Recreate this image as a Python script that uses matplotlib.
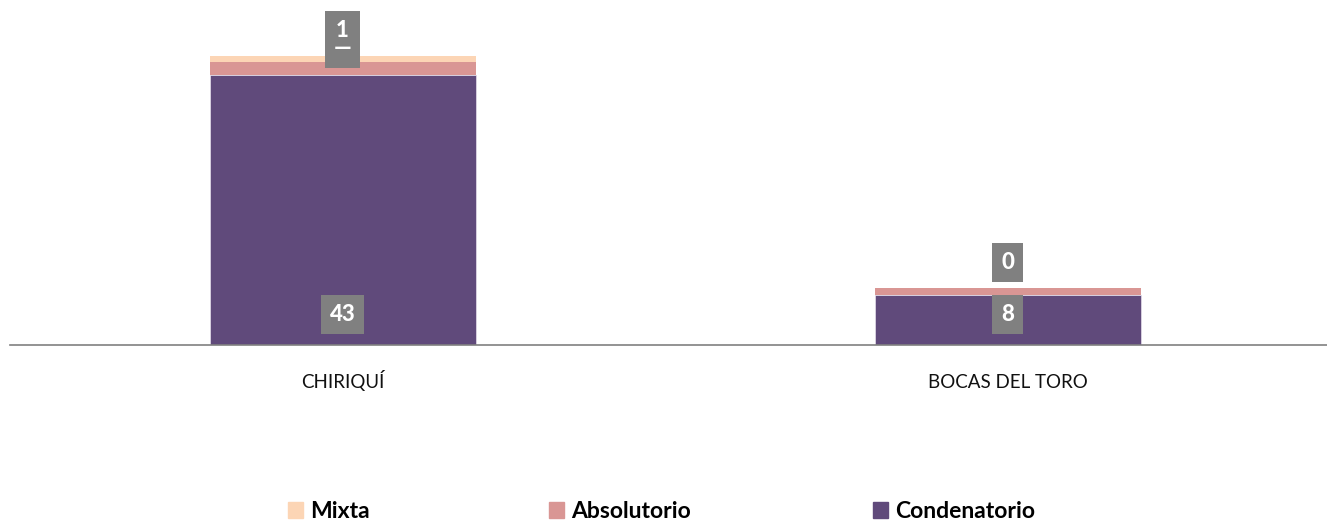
import matplotlib.pyplot as plt
from matplotlib.patches import Patch

provincias = ['CHIRIQUÍ', 'BOCAS DEL TORO']
condenatorio = [43, 8]
absolutorio = [2, 1]
mixta = [1, 0]
etiqueta_arriba = ['1\n—', '0']

c_cond = '#604A7B'
c_abs = '#D99694'
c_mix = '#FCD5B5'

plt.rcParams['font.family'] = ['Lato', 'DejaVu Sans']

fig = plt.figure(figsize=(13.27, 5.22), dpi=100)
ax = fig.add_axes([0.0075, 0.339, 0.9925, 0.661])

x = [0, 1]
w = 0.4
base2 = [a + b for a, b in zip(condenatorio, absolutorio)]
tope = [a + b for a, b in zip(base2, mixta)]
ax.bar(x, condenatorio, w, color=c_cond, edgecolor='#E6E0EC', linewidth=0.5, zorder=2)
ax.bar(x, absolutorio, w, bottom=condenatorio, color=c_abs, zorder=2)
ax.bar(x, mixta, w, bottom=base2, color=c_mix, zorder=2)

box = dict(boxstyle='square,pad=0.4', fc='#808080', ec='none')
# etiquetas condenatorio en la base
for xi, v in zip(x, condenatorio):
    ax.text(xi, 4.9, str(v), ha='center', va='center', color='white',
            fontsize=16, fontweight='black', bbox=box, zorder=5)
# etiquetas de arriba
offs = [2.6, 4.1]
for xi, t, o, lbl in zip(x, tope, offs, etiqueta_arriba):
    ax.text(xi, t + o, lbl, ha='center', va='center', color='white',
            fontsize=16, fontweight='black', linespacing=0.85, bbox=box, zorder=6)

ax.set_xlim(-0.5, 1.48)
ax.set_ylim(0, 54.9)
ax.set_xticks(x)
ax.set_xticklabels(provincias, fontsize=13.5, color='#111111')
for lb in ax.get_xticklabels():
    lb.set_va('baseline')
ax.tick_params(axis='x', length=0, pad=31)
ax.set_yticks([])
for s in ['top', 'right', 'left']:
    ax.spines[s].set_visible(False)
ax.spines['bottom'].set_color('#808080')
ax.spines['bottom'].set_linewidth(1.2)

nombres = ['Mixta', 'Absolutorio', 'Condenatorio']
colores = [c_mix, c_abs, c_cond]
pos_x = [0.217, 0.4137, 0.658]
for nom, col, px in zip(nombres, colores, pos_x):
    fig.legend(handles=[Patch(color=col, label=nom)], loc='center left',
               bbox_to_anchor=(px, 0.02), frameon=False, borderpad=0, borderaxespad=0,
               prop={'size': 16.5, 'weight': 'bold'},
               handlelength=0.65, handleheight=0.65, handletextpad=0.3)

fig.savefig('out.png', dpi=100)
